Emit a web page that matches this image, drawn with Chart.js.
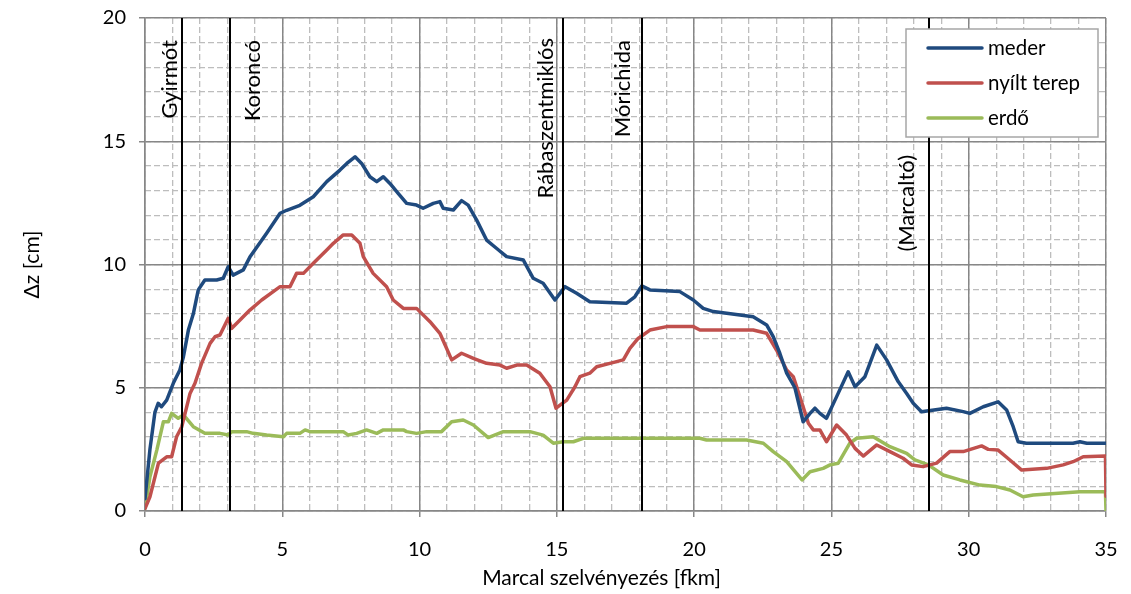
<!DOCTYPE html>
<html>
<head>
<meta charset="utf-8">
<script src="https://cdn.jsdelivr.net/npm/chart.js@4.4.1/dist/chart.umd.min.js"></script>
<style>
  html, body { margin: 0; padding: 0; background: #fff; }
  #wrap { width: 1131px; height: 594px; }
</style>
</head>
<body>
<div id="wrap"><canvas id="dzChart" width="1131" height="594"></canvas></div>
<script>
// Adatok: [szelvény (fkm), Δz (cm)]
const mederPts = [
  [0, 0.5], [0.18, 2.5], [0.36, 4.0], [0.48, 4.37], [0.6, 4.23], [0.79, 4.5], [1.03, 5.18], [1.27, 5.72],
  [1.4, 6.26], [1.58, 7.34], [1.76, 8.0], [1.94, 8.97], [2.18, 9.37], [2.61, 9.37], [2.85, 9.44], [3.03, 9.91],
  [3.21, 9.57], [3.58, 9.78], [3.82, 10.3], [4.43, 11.27], [4.92, 12.08], [5.16, 12.2], [5.64, 12.4], [6.13, 12.75],
  [6.62, 13.36], [7.1, 13.83], [7.35, 14.1], [7.65, 14.37], [7.89, 14.1], [8.19, 13.56], [8.44, 13.36], [8.68, 13.56],
  [8.92, 13.29], [9.22, 12.89], [9.53, 12.48], [9.89, 12.41], [10.13, 12.28], [10.5, 12.48], [10.74, 12.55], [10.86, 12.28],
  [11.23, 12.21], [11.53, 12.59], [11.77, 12.41], [12.08, 11.8], [12.44, 10.99], [12.81, 10.65], [13.17, 10.32], [13.78, 10.18],
  [14.14, 9.44], [14.5, 9.24], [14.93, 8.56], [15.3, 9.1], [15.72, 8.83], [16.2, 8.49], [17.54, 8.43], [17.84, 8.69],
  [18.09, 9.13], [18.39, 8.97], [19.48, 8.9], [19.97, 8.56], [20.33, 8.22], [20.7, 8.09], [21.67, 7.95], [22.15, 7.88],
  [22.64, 7.55], [22.88, 7.07], [23.12, 6.4], [23.37, 5.59], [23.67, 5.0], [23.97, 3.62], [24.22, 3.96], [24.4, 4.17],
  [24.58, 3.96], [24.82, 3.76], [25.19, 4.64], [25.61, 5.65], [25.86, 5.04], [26.22, 5.45], [26.65, 6.73], [27.01, 6.13],
  [27.43, 5.25], [27.74, 4.77], [27.98, 4.37], [28.28, 4.03], [29.19, 4.17], [29.8, 4.03], [30.04, 3.96], [30.53, 4.23],
  [31.07, 4.43], [31.38, 4.1], [31.62, 3.42], [31.8, 2.81], [32.1, 2.75], [33.8, 2.75], [34.05, 2.81], [34.3, 2.75], [35, 2.75]
];
const nyiltPts = [
  [0, 0.1], [0.18, 0.58], [0.49, 1.94], [0.79, 2.2], [0.97, 2.2], [1.15, 3.01], [1.34, 3.42], [1.64, 4.77],
  [1.82, 5.18], [2.06, 5.99], [2.37, 6.8], [2.55, 7.07], [2.73, 7.14], [3.03, 7.82], [3.16, 7.41], [3.46, 7.75],
  [3.82, 8.15], [4.25, 8.56], [4.67, 8.9], [4.92, 9.1], [5.28, 9.1], [5.52, 9.64], [5.77, 9.64], [6.13, 10.05],
  [6.62, 10.59], [6.86, 10.86], [7.22, 11.2], [7.53, 11.2], [7.83, 10.86], [7.95, 10.32], [8.31, 9.64], [8.8, 9.1],
  [9.04, 8.56], [9.41, 8.22], [9.89, 8.22], [10.38, 7.68], [10.74, 7.21], [11.17, 6.13], [11.53, 6.4], [11.96, 6.19],
  [12.44, 5.99], [12.93, 5.92], [13.17, 5.79], [13.54, 5.92], [13.9, 5.92], [14.38, 5.59], [14.75, 5.04], [14.97, 4.17],
  [15.36, 4.5], [15.66, 5.04], [15.84, 5.45], [16.2, 5.59], [16.45, 5.85], [16.93, 5.99], [17.42, 6.13], [17.66, 6.6],
  [17.96, 7.0], [18.39, 7.34], [19.0, 7.48], [19.97, 7.48], [20.21, 7.34], [22.15, 7.34], [22.64, 7.21], [23.0, 6.53],
  [23.37, 5.72], [23.61, 5.45], [23.85, 4.64], [24.16, 3.56], [24.34, 3.29], [24.58, 3.29], [24.82, 2.81], [25.19, 3.49],
  [25.55, 3.08], [25.86, 2.54], [26.16, 2.23], [26.65, 2.68], [27.13, 2.41], [27.61, 2.14], [27.92, 1.87], [28.34, 1.8],
  [28.83, 1.94], [29.31, 2.41], [29.8, 2.41], [30.47, 2.64], [30.71, 2.5], [31.07, 2.47], [31.5, 2.07], [31.93, 1.66],
  [32.84, 1.73], [33.44, 1.87], [33.8, 2.0], [34.17, 2.2], [34.98, 2.23], [35, 0.6]
];
const erdoPts = [
  [0, 0.1], [0.18, 1.39], [0.43, 2.47], [0.67, 3.62], [0.85, 3.62], [0.97, 3.96], [1.21, 3.76], [1.4, 3.9],
  [1.76, 3.42], [2.18, 3.15], [2.73, 3.15], [3.03, 3.08], [3.16, 3.22], [3.7, 3.22], [3.94, 3.15], [4.43, 3.08],
  [5.04, 3.01], [5.16, 3.15], [5.64, 3.15], [5.83, 3.29], [6.01, 3.22], [7.22, 3.22], [7.4, 3.08], [7.71, 3.15],
  [8.07, 3.29], [8.44, 3.15], [8.68, 3.29], [9.41, 3.29], [9.53, 3.22], [9.89, 3.15], [10.26, 3.22], [10.8, 3.22],
  [11.17, 3.62], [11.59, 3.69], [11.96, 3.49], [12.5, 2.98], [13.05, 3.22], [14.02, 3.22], [14.5, 3.08], [14.87, 2.75],
  [15.23, 2.81], [15.6, 2.81], [15.96, 2.95], [18.03, 2.95], [20.21, 2.95], [20.45, 2.88], [21.91, 2.88], [22.52, 2.75],
  [22.88, 2.41], [23.37, 2.0], [23.73, 1.53], [23.93, 1.26], [24.22, 1.59], [24.7, 1.73], [24.95, 1.87], [25.25, 1.94],
  [25.67, 2.75], [25.92, 2.95], [26.52, 3.01], [27.13, 2.61], [27.74, 2.34], [28.04, 2.07], [28.53, 1.87], [29.07, 1.46],
  [29.68, 1.26], [30.41, 1.05], [31.01, 0.99], [31.5, 0.85], [31.98, 0.58], [32.35, 0.65], [34.05, 0.78], [34.98, 0.78], [35, 0]
];
const seriesNames = ['meder', 'nyílt terep', 'erdő'];
const settlementNames = ['Gyirmót', 'Koroncó', 'Rábaszentmiklós', 'Mórichida', '(Marcaltó)'];
const settlementKm = [1.35, 3.1, 15.23, 18.1, 28.57];
const kmTicks = [0, 5, 10, 15, 20, 25, 30, 35];
const dzTicks = [0, 5, 10, 15, 20];

// Megjelenés
const seriesColors = ['#1f4a7e', '#c0504d', '#9bbb59'];
const labelShift = [-5, 30, -10, -12, -15];   // felirat alapvonala a függőleges vonalhoz képest (px)
const labelTop = [22, 22, 20, 22, 137];        // felirat vége a rajzterület tetejétől (px)
const FONT = 'Lato, "Open Sans", sans-serif';
const majorGrid = '#878787';
const minorGrid = '#bdbdbd';

Chart.defaults.font.family = FONT;
Chart.defaults.color = '#000';

// Függőleges vonalak a települések szelvényeinél
const markerPlugin = {
  id: 'markers',
  afterDatasetsDraw(chart) {
    const { ctx, chartArea, scales } = chart;
    ctx.save();
    ctx.strokeStyle = '#000';
    ctx.lineWidth = 2;
    ctx.fillStyle = '#000';
    ctx.font = '22px ' + FONT;
    settlementKm.forEach((km, i) => {
      const px = Math.round(scales.x.getPixelForValue(km));
      ctx.beginPath();
      ctx.moveTo(px, chartArea.top);
      ctx.lineTo(px, chartArea.bottom);
      ctx.stroke();

      ctx.save();
      ctx.translate(px + labelShift[i], chartArea.top + labelTop[i]);
      ctx.rotate(-Math.PI / 2);
      ctx.textAlign = 'right';
      ctx.textBaseline = 'alphabetic';
      ctx.fillText(settlementNames[i], 0, 0);
      ctx.restore();
    });
    ctx.restore();
  }
};

// Jelmagyarázat a rajzterület jobb felső sarkában
const legendPlugin = {
  id: 'boxLegend',
  afterDraw(chart) {
    const { ctx, chartArea } = chart;
    const w = 192, h = 108;
    const x = chartArea.right - 8 - w;
    const y = chartArea.top + 11;
    ctx.save();
    ctx.fillStyle = '#fff';
    ctx.fillRect(x, y, w, h);
    ctx.strokeStyle = '#a6a6a6';
    ctx.lineWidth = 1.5;
    ctx.strokeRect(x, y, w, h);
    ctx.font = '20.5px ' + FONT;
    ctx.textBaseline = 'middle';
    ctx.lineCap = 'round';
    chart.data.datasets.forEach((ds, i) => {
      const ry = y + 19 + i * 35;
      ctx.strokeStyle = ds.borderColor;
      ctx.lineWidth = 3.5;
      ctx.beginPath();
      ctx.moveTo(x + 22, ry);
      ctx.lineTo(x + 76, ry);
      ctx.stroke();
      ctx.fillStyle = '#000';
      ctx.fillText(ds.label, x + 82, ry);
    });
    ctx.restore();
  }
};

// Tengelycím a referencia szerinti helyen (a rajzterülethez képest kissé balra)
const xTitlePlugin = {
  id: 'xTitle',
  afterDraw(chart) {
    const { ctx, chartArea } = chart;
    ctx.save();
    ctx.font = '21px ' + FONT;
    ctx.fillStyle = '#000';
    ctx.textAlign = 'center';
    ctx.textBaseline = 'middle';
    ctx.fillText('Marcal szelvényezés [fkm]', (chartArea.left + chartArea.right) / 2 - 24, chartArea.bottom + 67);
    ctx.restore();
  }
};

// a feliratok miatti automatikus belső margó kikapcsolása
function noLabelPadding(s) {
  s.paddingTop = 0;
  s.paddingBottom = 0;
  s.paddingLeft = 0;
  s.paddingRight = 0;
}

function makeSet(points, i) {
  return {
    label: seriesNames[i],
    data: points.map(p => ({ x: p[0], y: p[1] })),
    borderColor: seriesColors[i],
    backgroundColor: seriesColors[i],
    borderWidth: 3.5,
    pointRadius: 0,
    tension: 0,
    borderJoinStyle: 'round',
    borderCapStyle: 'round'
  };
}

new Chart(document.getElementById('dzChart'), {
  type: 'line',
  data: {
    datasets: [makeSet(mederPts, 0), makeSet(nyiltPts, 1), makeSet(erdoPts, 2)]
  },
  options: {
    responsive: false,
    animation: false,
    devicePixelRatio: 1,
    layout: { autoPadding: false, padding: { top: 18, right: 25, left: 0, bottom: 0 } },
    plugins: { legend: { display: false }, tooltip: { enabled: false } },
    scales: {
      xMinor: {
        type: 'linear', position: 'bottom', z: -1,
        min: kmTicks[0], max: kmTicks[kmTicks.length - 1],
        afterFit: noLabelPadding,
        ticks: { display: false, stepSize: 1 },
        grid: { color: minorGrid, lineWidth: 1.3, drawTicks: false },
        border: { display: false, dash: [6, 3] }
      },
      yMinor: {
        type: 'linear', position: 'left', z: -1,
        min: dzTicks[0], max: dzTicks[dzTicks.length - 1],
        afterFit: noLabelPadding,
        ticks: { display: false, stepSize: 1 },
        grid: { color: minorGrid, lineWidth: 1.3, drawTicks: false },
        border: { display: false, dash: [6, 3] }
      },
      x: {
        type: 'linear', position: 'bottom',
        min: kmTicks[0], max: kmTicks[kmTicks.length - 1],
        afterBuildTicks: s => { s.ticks = kmTicks.map(v => ({ value: v })); },
        afterFit: s => { s.height = 83; noLabelPadding(s); },
        ticks: { font: { size: 20 }, padding: 21, maxRotation: 0 },
        grid: { color: majorGrid, lineWidth: 1.5, tickLength: 6, tickColor: majorGrid },
        border: { color: majorGrid, width: 1.5 }
      },
      y: {
        type: 'linear', position: 'left',
        min: dzTicks[0], max: dzTicks[dzTicks.length - 1],
        afterBuildTicks: s => { s.ticks = dzTicks.map(v => ({ value: v })); },
        afterFit: s => { s.width = 145; noLabelPadding(s); },
        ticks: { font: { size: 20 }, padding: 13 },
        grid: { color: majorGrid, lineWidth: 1.5, tickLength: 6, tickColor: majorGrid },
        border: { color: majorGrid, width: 1.5 },
        title: { display: true, text: 'Δz [cm]', font: { size: 21 }, padding: { top: 20, bottom: 0 } }
      }
    }
  },
  plugins: [markerPlugin, legendPlugin, xTitlePlugin]
});
</script>
</body>
</html>
